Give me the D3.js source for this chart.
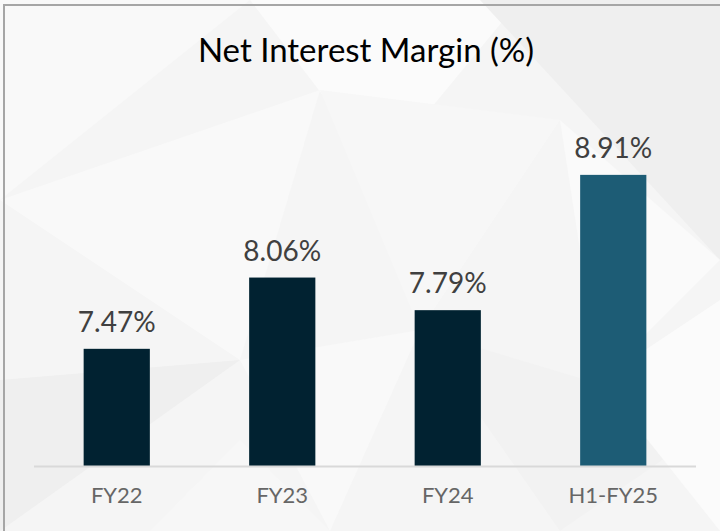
<!DOCTYPE html>
<html>
<head>
<meta charset="utf-8">
<script src="https://cdn.jsdelivr.net/npm/d3@7"></script>
<style>
  body { margin: 0; background: #f3f3f3; }
  svg { display: block; }
</style>
</head>
<body>
<div id="chart"></div>
<script>
// chart data
const categories = ["FY22", "FY23", "FY24", "H1-FY25"];
const values = [7.47, 8.06, 7.79, 8.91];
const valueLabels = ["7.47%", "8.06%", "7.79%", "8.91%"];
const barColors = ["#012231", "#012231", "#012231", "#1d5c75"];

const width = 720, height = 531;
const margin = { left: 34, right: 24, top: 40, bottom: 65 };

const svg = d3.select("#chart").append("svg")
    .attr("width", width)
    .attr("height", height);

// background, soft geometric shading
svg.append("rect").attr("width", width).attr("height", height).attr("fill", "#f5f5f5");
const shades = [
    { pts: [[0, 0], [250, 0], [0, 200]], fill: "#f9f9f9" },
    { pts: [[250, 0], [520, 0], [380, 170]], fill: "#fbfbfb" },
    { pts: [[480, 0], [720, 0], [720, 260]], fill: "#efefef" },
    { pts: [[0, 200], [320, 90], [240, 360]], fill: "#f9f9f9" },
    { pts: [[320, 90], [560, 120], [420, 330]], fill: "#f7f7f7" },
    { pts: [[560, 120], [720, 260], [600, 380]], fill: "#fafafa" },
    { pts: [[0, 380], [240, 360], [0, 531]], fill: "#efefef" },
    { pts: [[240, 360], [420, 330], [330, 531]], fill: "#f9f9f9" },
    { pts: [[420, 330], [720, 420], [560, 531]], fill: "#f2f2f2" },
    { pts: [[150, 531], [330, 531], [240, 440]], fill: "#f7f7f7" },
    { pts: [[600, 380], [720, 300], [720, 531]], fill: "#fbfbfb" }
];
svg.append("g").selectAll("polygon")
    .data(shades)
    .join("polygon")
    .attr("points", d => d.pts.map(p => p.join(",")).join(" "))
    .attr("fill", d => d.fill);

// frame lines (top and left)
svg.append("path")
    .attr("d", "M4,531 V5 H720")
    .attr("fill", "none")
    .attr("stroke", "#a6a6a6")
    .attr("stroke-width", 2);

const x = d3.scaleBand()
    .domain(categories)
    .range([margin.left, width - margin.right])
    .paddingInner(0.6)
    .paddingOuter(0.3);

const y = d3.scaleLinear()
    .domain([6.5, 10])
    .range([height - margin.bottom, height - margin.bottom - 3.5 * 120.8]);

// title
svg.append("text")
    .attr("x", 366)
    .attr("y", 62)
    .attr("text-anchor", "middle")
    .attr("font-family", "Lato, 'Open Sans', sans-serif")
    .attr("font-size", 33)
    .attr("fill", "#000")
    .text("Net Interest Margin (%)");

// bars
svg.append("g").selectAll("rect")
    .data(values)
    .join("rect")
    .attr("x", (d, i) => x(categories[i]))
    .attr("width", x.bandwidth())
    .attr("y", d => y(d))
    .attr("height", d => y(6.5) - y(d))
    .attr("fill", (d, i) => barColors[i]);

// value labels
svg.append("g").selectAll("text")
    .data(values)
    .join("text")
    .attr("x", (d, i) => x(categories[i]) + x.bandwidth() / 2)
    .attr("y", d => y(d) - 17)
    .attr("text-anchor", "middle")
    .attr("font-family", "Lato, 'Open Sans', sans-serif")
    .attr("font-size", 28)
    .attr("fill", "#404040")
    .text((d, i) => valueLabels[i]);

// x axis
const xAxis = svg.append("g")
    .attr("transform", `translate(0,${y(6.5)})`)
    .call(d3.axisBottom(x).tickSize(0).tickPadding(21));
xAxis.select(".domain")
    .attr("d", `M${margin.left},0.5H${width - margin.right}`)
    .attr("stroke", "#d9d9d9")
    .attr("stroke-width", 2);
xAxis.selectAll("text")
    .attr("font-family", "Lato, 'Open Sans', sans-serif")
    .attr("font-size", 22)
    .attr("fill", "#666666");
</script>
</body>
</html>
